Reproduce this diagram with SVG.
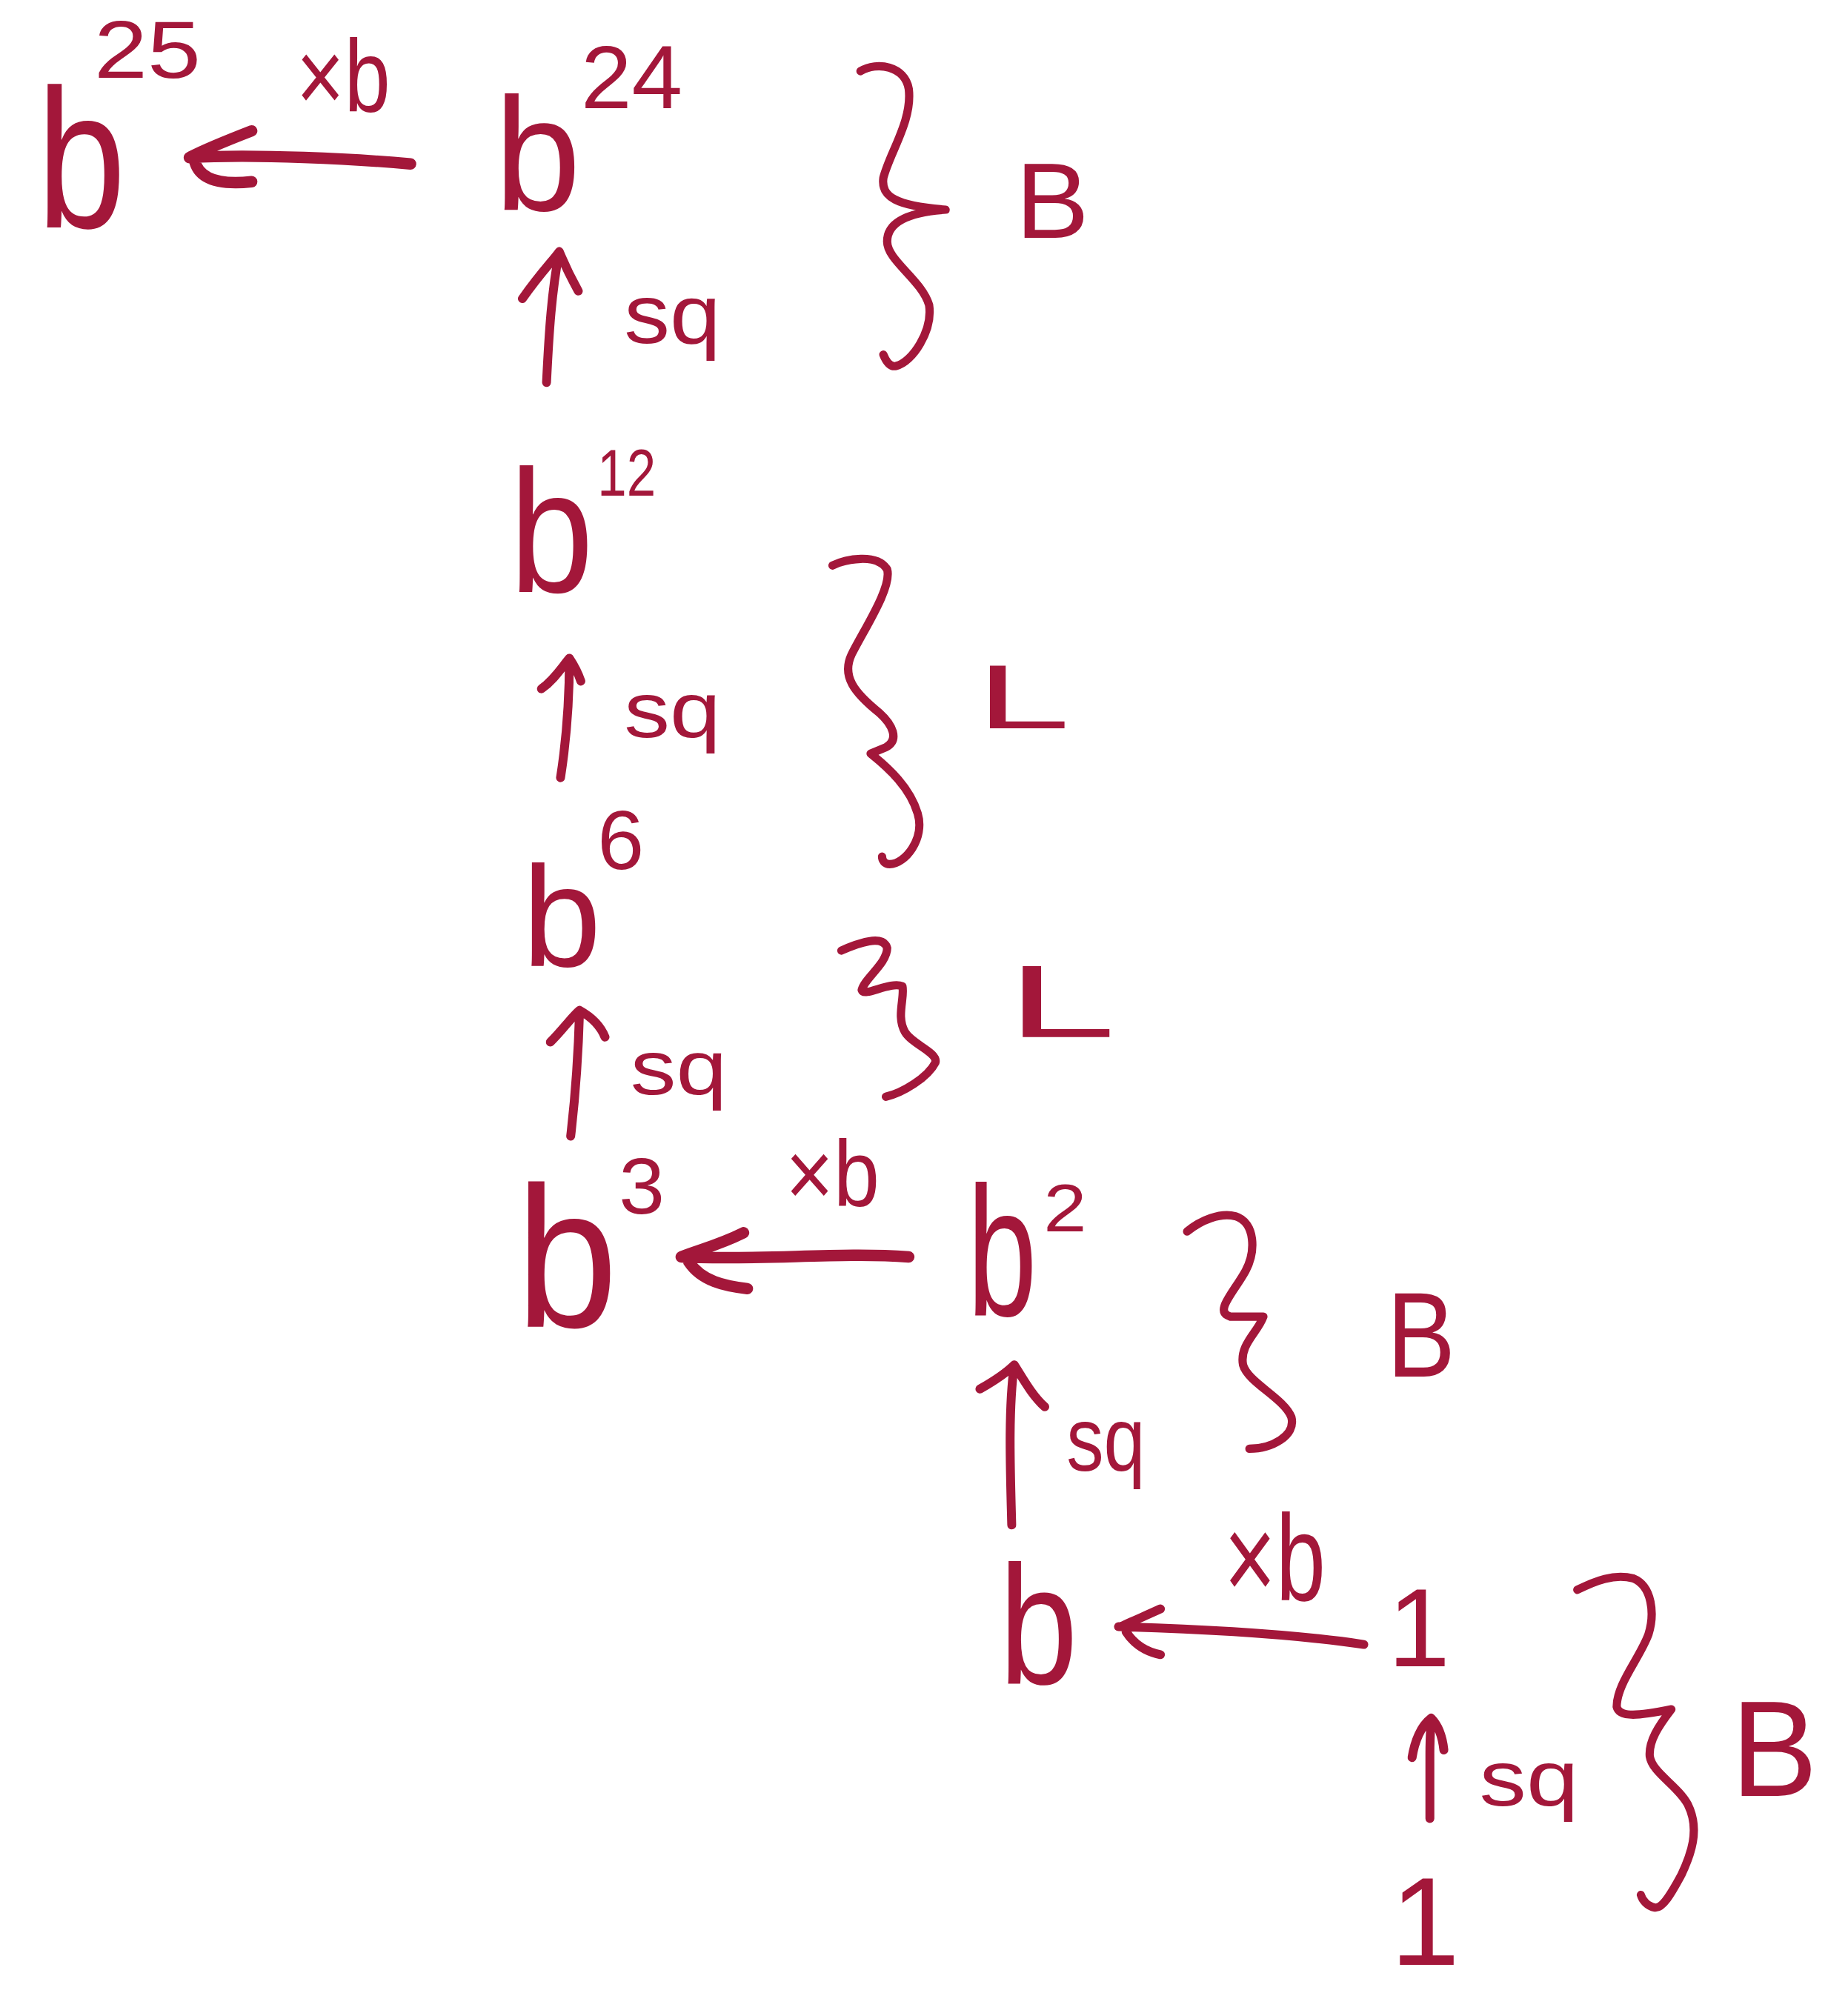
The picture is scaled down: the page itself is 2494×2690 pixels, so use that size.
<svg xmlns="http://www.w3.org/2000/svg" width="2494" height="2690" viewBox="0 0 2494 2690">
<style>
  .ink { stroke: #A3173A; fill: none; stroke-linecap: round; stroke-linejoin: round; }
  .arrow { stroke-width: 7; }
  .arrowh { stroke-width: 9; }
  .brace { stroke-width: 6.5; }
  text { font-family: "Liberation Sans", Arial, sans-serif; fill: #A3173A; }
</style>
<rect x="0" y="0" width="2494" height="2690" fill="#ffffff"/>
<g transform="scale(1.7153)">
  <!-- nodes -->
  <g id="b25">
    <text x="29" y="179" font-size="156"><tspan textLength="70" lengthAdjust="spacingAndGlyphs">b</tspan><tspan x="74" y="61" font-size="64" textLength="84" lengthAdjust="spacingAndGlyphs">25</tspan></text>
  </g>
  <g id="b24">
    <text x="389" y="165" font-size="127"><tspan textLength="68" lengthAdjust="spacingAndGlyphs">b</tspan><tspan x="457" y="85" font-size="70" textLength="80" lengthAdjust="spacingAndGlyphs">24</tspan></text>
  </g>
  <g id="b12">
    <text x="401" y="466" font-size="137"><tspan textLength="66" lengthAdjust="spacingAndGlyphs">b</tspan><tspan x="470" y="390" font-size="52" textLength="46" lengthAdjust="spacingAndGlyphs">12</tspan></text>
  </g>
  <g id="b6">
    <text x="411" y="760" font-size="112"><tspan textLength="62" lengthAdjust="spacingAndGlyphs">b</tspan><tspan x="470" y="684" font-size="66">6</tspan></text>
  </g>
  <g id="b3">
    <text x="406" y="1044" font-size="158"><tspan textLength="80" lengthAdjust="spacingAndGlyphs">b</tspan><tspan x="487" y="955" font-size="63" textLength="36" lengthAdjust="spacingAndGlyphs">3</tspan></text>
  </g>
  <g id="b2">
    <text x="761" y="1035" font-size="145"><tspan textLength="55" lengthAdjust="spacingAndGlyphs">b</tspan><tspan x="821" y="969" font-size="53" textLength="34" lengthAdjust="spacingAndGlyphs">2</tspan></text>
  </g>
  <g id="b1">
    <text x="786" y="1325" font-size="133" textLength="62" lengthAdjust="spacingAndGlyphs">b</text>
  </g>
  <g id="one-top">
    <text x="1092" y="1311" font-size="88">1</text>
  </g>
  <g id="one-bottom">
    <text x="1094" y="1546" font-size="98">1</text>
  </g>

  <!-- braces with labels -->
  <g id="brace-B-top">
    <path class="ink brace" d="M677,56 C690,48 712,52 715,70 C718,95 700,120 695,140 C693,155 705,162 744,165 C715,167 698,175 698,190 C698,205 725,220 731,240 C734,260 718,285 705,288 C700,289 697,284 695,279"/>
    <text x="799" y="187" font-size="84" textLength="58" lengthAdjust="spacingAndGlyphs">B</text>
  </g>
  <g id="brace-L-1">
    <path class="ink brace" d="M655,445 C665,440 690,435 698,448 C702,462 680,495 670,515 C662,532 672,545 692,561 C702,570 708,582 697,588 L685,593 C700,605 716,620 722,640 C728,660 712,680 700,680 C696,680 694,677 694,674"/>
    <text x="768" y="573" font-size="71" textLength="74" lengthAdjust="spacingAndGlyphs">L</text>
  </g>
  <g id="brace-L-2">
    <path class="ink brace" d="M662,748 C675,742 695,735 698,746 C698,758 680,770 678,779 C680,785 700,772 710,776 C712,785 705,800 712,812 C718,822 738,828 736,836 C730,848 710,860 697,863"/>
    <text x="792" y="816" font-size="81" textLength="86" lengthAdjust="spacingAndGlyphs">L</text>
  </g>
  <g id="brace-B-mid">
    <path class="ink brace" d="M934,969 C945,960 960,954 972,957 C988,962 988,985 980,1000 C970,1018 955,1032 968,1036 L994,1036 C990,1048 975,1058 978,1074 C982,1088 1010,1100 1016,1115 C1020,1130 1000,1140 983,1140"/>
    <text x="1091" y="1083" font-size="95" textLength="54" lengthAdjust="spacingAndGlyphs">B</text>
  </g>
  <g id="brace-B-bottom">
    <path class="ink brace" d="M1241,1251 C1255,1244 1270,1238 1285,1242 C1300,1248 1302,1270 1297,1286 C1290,1305 1272,1325 1272,1343 C1274,1352 1290,1350 1315,1345 C1305,1358 1297,1370 1298,1382 C1300,1395 1320,1405 1328,1420 C1338,1440 1330,1460 1323,1475 C1315,1490 1308,1502 1302,1501 C1296,1500 1292,1495 1291,1491"/>
    <text x="1362" y="1413" font-size="107" textLength="68" lengthAdjust="spacingAndGlyphs">B</text>
  </g>

  <!-- connectors -->
  <g id="connectors">
    <g id="e-b24-b25">
      <path class="ink arrowh" d="M323,129 C280,125 200,121 149,124 M198,103 C180,110 160,118 149,124 M153,126 C156,140 170,146 198,143"/>
      <text x="233" y="88" font-size="81" textLength="74" lengthAdjust="spacingAndGlyphs">×b</text>
    </g>
    <g id="e-b12-b24">
      <path class="ink arrow" d="M430,301 C432,260 434,230 440,198 M411,235 C425,215 435,205 440,198 C445,210 450,220 455,229"/>
      <text x="491" y="270" font-size="66" textLength="76" lengthAdjust="spacingAndGlyphs">sq</text>
    </g>
    <g id="e-b6-b12">
      <path class="ink arrow" d="M441,612 C446,580 448,545 448,518 M426,542 C436,535 442,525 448,518 C452,524 455,530 457,536"/>
      <text x="491" y="580" font-size="62" textLength="76" lengthAdjust="spacingAndGlyphs">sq</text>
    </g>
    <g id="e-b3-b6">
      <path class="ink arrow" d="M449,894 C453,860 455,830 456,795 M433,820 C443,810 450,800 456,795 C465,800 472,806 476,816"/>
      <text x="496" y="861" font-size="60" textLength="76" lengthAdjust="spacingAndGlyphs">sq</text>
    </g>
    <g id="e-b2-b3">
      <path class="ink arrowh" d="M715,989 C660,985 600,992 536,989 M585,970 C565,980 548,984 536,989 M542,993 C552,1008 570,1012 588,1014"/>
      <text x="618" y="949" font-size="74" textLength="74" lengthAdjust="spacingAndGlyphs">×b</text>
    </g>
    <g id="e-b1-b2">
      <path class="ink arrow" d="M796,1200 C795,1160 793,1110 798,1074 M771,1093 C785,1085 792,1080 798,1074 C805,1085 812,1098 822,1107"/>
      <text x="839" y="1157" font-size="71" textLength="62" lengthAdjust="spacingAndGlyphs">sq</text>
    </g>
    <g id="e-one-b1">
      <path class="ink arrow" d="M1073,1294 C1020,1286 950,1282 880,1280 M913,1266 C900,1272 890,1276 882,1280 M886,1284 C893,1295 903,1300 913,1302"/>
      <text x="963" y="1259" font-size="96" textLength="80" lengthAdjust="spacingAndGlyphs">×b</text>
    </g>
    <g id="e-one-one">
      <path class="ink arrow" d="M1125,1431 L1125,1380 C1125,1365 1126,1355 1126,1352 M1111,1383 C1113,1370 1118,1358 1126,1352 C1132,1358 1135,1368 1136,1377"/>
      <text x="1164" y="1421" font-size="62" textLength="78" lengthAdjust="spacingAndGlyphs">sq</text>
    </g>
  </g>
</g>
</svg>
